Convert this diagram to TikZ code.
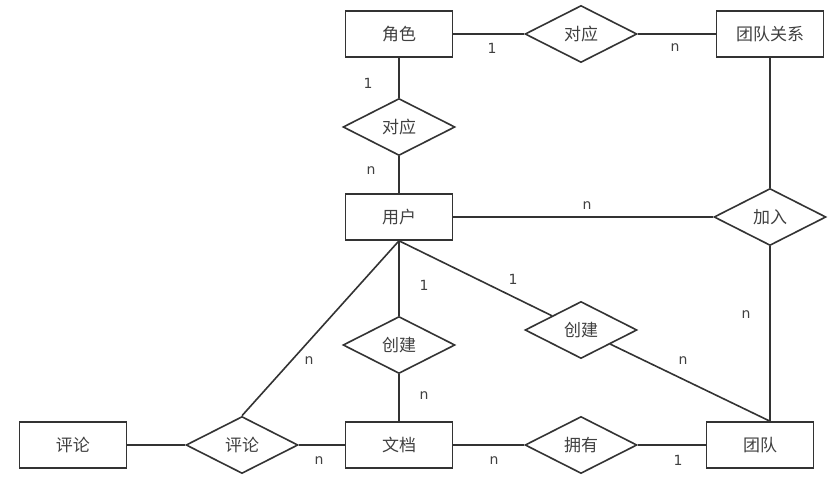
\documentclass[tikz,border=0pt]{standalone}
\usepackage{fontspec}
\setmainfont{DejaVu Sans}
\newfontfamily\cjk{Noto Sans CJK SC}
\usepackage{xcolor}
\usepackage{tikz}
\usetikzlibrary{shapes.geometric}

\definecolor{erline}{HTML}{333333}
\definecolor{ertext}{HTML}{404040}

\begin{document}
\begin{tikzpicture}[
  x=1pt, y=-1pt,
  entity/.style={draw=erline, line width=1.6pt, minimum width=107pt, minimum height=46pt, text=ertext, font=\cjk\fontsize{17}{19}\selectfont},
  relation/.style={draw=erline, line width=1.6pt, diamond, inner sep=0pt, minimum width=112pt, minimum height=57pt, text=ertext, font=\cjk\fontsize{17}{19}\selectfont},
  card/.style={inner sep=0pt, text=ertext, font=\fontsize{14}{16}\selectfont},
  link/.style={draw=erline, line width=1.6pt}
]
  \useasboundingbox (0,0) rectangle (839,487);

  % entities and relations
  \node[entity] (role) at (399,34) {角色};
  \node[relation] (map1) at (581,34) {对应};
  \node[entity] (teamrel) at (770,34) {团队关系};
  \node[relation] (map2) at (399,127) {对应};
  \node[entity] (user) at (399,217) {用户};
  \node[relation] (join) at (770,217) {加入};
  \node[relation] (make1) at (399,345) {创建};
  \node[relation] (make2) at (581,330) {创建};
  \node[entity] (cmt) at (73,445) {评论};
  \node[relation] (cmtrel) at (242,445) {评论};
  \node[entity] (doc) at (399,445) {文档};
  \node[relation] (own) at (581,445) {拥有};
  \node[entity] (team) at (760,445) {团队};

  \coordinate (teamtop) at (join |- team.north);

  % connectors
  \draw[link] (role) -- (map1) -- (teamrel);
  \draw[link] (role) -- (map2) -- (user);
  \draw[link] (teamrel) -- (join);
  \draw[link] (user) -- (join);
  \draw[link] (join) -- (teamtop);
  \draw[link] (user.south) -- (make1) -- (doc);
  \draw[link] (user.south) -- (make2) -- (teamtop);
  \draw[link] (user.south) -- (cmtrel.north);
  \draw[link] (cmt) -- (cmtrel) -- (doc);
  \draw[link] (doc) -- (own) -- (team);

  % cardinalities
  \node[card] (c1) at (492,48) {1};
  \node[card] (c2) at (675,48) {n};
  \node[card] (c3) at (368,83) {1};
  \node[card] (c4) at (371,171) {n};
  \node[card] (c5) at (587,206) {n};
  \node[card] (c6) at (424,285) {1};
  \node[card] (c7) at (513,279) {1};
  \node[card] (c8) at (746,315) {n};
  \node[card] (c9) at (683,361) {n};
  \node[card] (c10) at (309,361) {n};
  \node[card] (c11) at (424,396) {n};
  \node[card] (c12) at (319,461) {n};
  \node[card] (c13) at (494,461) {n};
  \node[card] (c14) at (678,460) {1};
\end{tikzpicture}
\end{document}
